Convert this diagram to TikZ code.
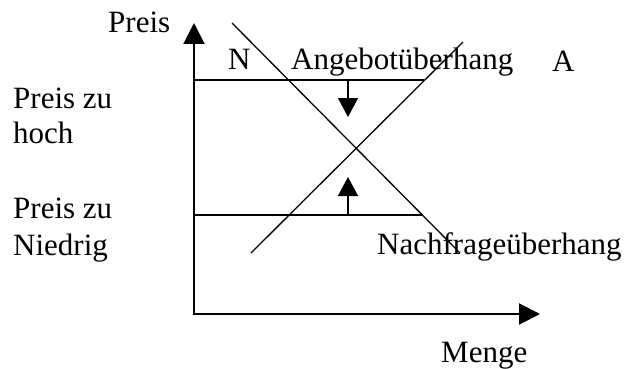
\documentclass[tikz,border=0pt]{standalone}
\usepackage{fontspec}
\setmainfont{Liberation Serif}
\usetikzlibrary{arrows.meta}
\begin{document}
\begin{tikzpicture}[x=1pt,y=-1pt,
  lbl/.style={anchor=base west,inner sep=0pt,font=\fontsize{31}{35}\selectfont},
  axis/.style={line width=2pt,-{Triangle[width=21pt,length=21pt]}},
  curve/.style={line width=1.3pt},
  pricemove/.style={line width=1.3pt,-{Triangle[width=20pt,length=19pt]}}]
\useasboundingbox (0,0) rectangle (629,369);

% axes
\coordinate (O) at (194,314);
\coordinate (ytip) at (194,23);
\coordinate (xtip) at (540,314);
\draw[axis] (194,314) -- (ytip);
\draw[axis] (193,314) -- (xtip);

% price levels
\coordinate (hiL) at (194,80);
\coordinate (hiR) at (424,80);
\coordinate (loL) at (194,215);
\coordinate (loR) at (423,215);
\draw[curve] (hiL) -- (hiR);
\draw[curve] (loL) -- (loR);

% demand (N) and supply (A)
\coordinate (n1) at (232,23);
\coordinate (n2) at (460,253);
\coordinate (a1) at (251,253);
\coordinate (a2) at (463,42);
\draw[curve] (n1) -- (n2);
\draw[curve] (a1) -- (a2);

% adjustment arrows
\coordinate (dnS) at (348,80);
\coordinate (dnE) at (348,117);
\coordinate (upS) at (348,215);
\coordinate (upE) at (348,177);
\draw[pricemove] (dnS) -- (dnE);
\draw[pricemove] (upS) -- (upE);

% labels
\node[lbl] (preis) at (108,33) {Preis};
\node[lbl] (hoch1) at (13,108) {Preis zu};
\node[lbl] (hoch2) at (13,143) {hoch};
\node[lbl] (nied1) at (13,218) {Preis zu};
\node[lbl] (nied2) at (13,255) {Niedrig};
\node[lbl] (N) at (228,70) {N};
\node[lbl] (ang) at (291,70) {Angebotüberhang};
\node[lbl] (A) at (552,71) {A};
\node[lbl] (nach) at (377,254) {Nachfrageüberhang};
\node[lbl] (menge) at (441,362) {Menge};
\end{tikzpicture}
\end{document}
